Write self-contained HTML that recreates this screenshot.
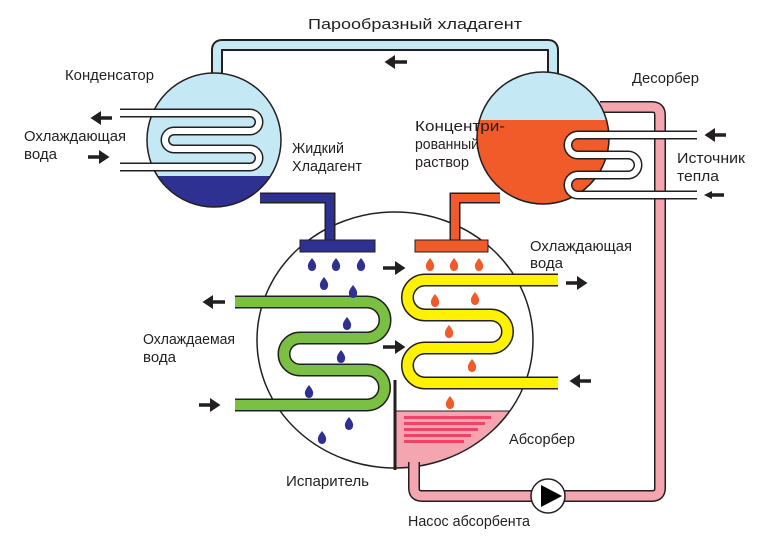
<!DOCTYPE html>
<html><head><meta charset="utf-8"><style>
html,body{margin:0;padding:0;background:#fff;}
svg{display:block;}
text{font-family:"Liberation Sans",sans-serif;font-size:15px;fill:#231f20;}
</style></head><body>
<svg width="760" height="540" viewBox="0 0 760 540" xmlns="http://www.w3.org/2000/svg">
<defs>
<marker id="ah" markerWidth="4" markerHeight="4" refX="2" refY="2" orient="auto" markerUnits="strokeWidth"><path d="M0,0 L3,2 L0,4 z" fill="#231f20"/></marker>
</defs>
<!-- big vessel -->
<clipPath id="bc"><ellipse cx="395" cy="340" rx="138" ry="128"/></clipPath>
<ellipse cx="395" cy="340" rx="138" ry="128" fill="#fff"/>
<rect x="395" y="411" width="150" height="70" fill="#f4a6b0" clip-path="url(#bc)"/>
<line x1="395" y1="411" x2="530" y2="411" stroke="#231f20" stroke-width="1" clip-path="url(#bc)"/>
<g fill="#ee4266">
<rect x="404" y="416" width="87" height="3"/><rect x="404" y="422" width="81" height="3"/><rect x="404" y="428" width="74" height="3"/><rect x="404" y="434" width="67" height="3"/><rect x="404" y="440" width="60" height="3"/>
</g>
<ellipse cx="395" cy="340" rx="138" ry="128" fill="none" stroke="#231f20" stroke-width="1.5"/>
<!-- top vapor pipe -->
<path d="M217,80 V50 Q217,45 222,45 H548 Q553,45 553,50 V80" fill="none" stroke="#231f20" stroke-width="12"/>
<path d="M217,80 V50 Q217,45 222,45 H548 Q553,45 553,50 V80" fill="none" stroke="#c5e8f5" stroke-width="8"/>
<!-- pink return pipe -->
<path d="M600,107 H652 Q660,107 660,115 V488 Q660,496 652,496 H422 Q414,496 414,488 V462" fill="none" stroke="#231f20" stroke-width="12"/>
<path d="M600,107 H652 Q660,107 660,115 V488 Q660,496 652,496 H422 Q414,496 414,488 V460" fill="none" stroke="#f4a6b0" stroke-width="9"/>
<rect x="395" y="411" width="0" height="0"/>
<!-- blue pipe -->
<path d="M260,198 H330 V245" fill="none" stroke="#231f20" stroke-width="11"/>
<path d="M260,198 H330 V245" fill="none" stroke="#2e3192" stroke-width="8"/>
<rect x="300" y="240" width="75" height="12" fill="#2e3192" stroke="#231f20" stroke-width="1"/>
<!-- orange pipe -->
<path d="M500,198 H455 V245" fill="none" stroke="#231f20" stroke-width="11"/>
<path d="M500,198 H455 V245" fill="none" stroke="#f15a29" stroke-width="8"/>
<rect x="415" y="240" width="73" height="12" fill="#f15a29" stroke="#231f20" stroke-width="1"/>
<line x1="395" y1="380" x2="395" y2="470" stroke="#231f20" stroke-width="3"/>
<!-- condenser -->
<clipPath id="cc"><circle cx="214" cy="140" r="67"/></clipPath>
<circle cx="214" cy="140" r="67" fill="#c5e8f5"/>
<rect x="140" y="176" width="150" height="40" fill="#2e3192" clip-path="url(#cc)"/>
<circle cx="214" cy="140" r="67" fill="none" stroke="#231f20" stroke-width="1.5"/>
<path d="M120,113 H250 A9,9 0 0 1 250,131 H174 A9,9 0 0 0 174,149 H250 A9,9 0 0 1 250,167 H120" fill="none" stroke="#231f20" stroke-width="9"/>
<path d="M120,113 H250 A9,9 0 0 1 250,131 H174 A9,9 0 0 0 174,149 H250 A9,9 0 0 1 250,167 H120" fill="none" stroke="#fff" stroke-width="6"/>
<!-- desorber -->
<clipPath id="dc"><circle cx="543" cy="138" r="66"/></clipPath>
<circle cx="543" cy="138" r="66" fill="#c5e8f5"/>
<rect x="470" y="120" width="150" height="100" fill="#f15a29" clip-path="url(#dc)"/>
<circle cx="543" cy="138" r="66" fill="none" stroke="#231f20" stroke-width="1.5"/>
<path d="M697,135 H578 A10,10 0 0 0 578,155 H628 A10,10 0 0 1 628,175 H578 A10,10 0 0 0 578,195 H697" fill="none" stroke="#231f20" stroke-width="9"/>
<path d="M697,135 H578 A10,10 0 0 0 578,155 H628 A10,10 0 0 1 628,175 H578 A10,10 0 0 0 578,195 H697" fill="none" stroke="#fff" stroke-width="6"/>
<!-- green coil -->
<path d="M235,302 H367 A18,18 0 0 1 367,338 H300 A16,16 0 0 0 300,370 H367 A17.5,17.5 0 0 1 367,405 H235" fill="none" stroke="#231f20" stroke-width="13"/>
<path d="M235,302 H367 A18,18 0 0 1 367,338 H300 A16,16 0 0 0 300,370 H367 A17.5,17.5 0 0 1 367,405 H235" fill="none" stroke="#7ac143" stroke-width="10"/>
<!-- yellow coil -->
<path d="M558,280 H425 A17.5,17.5 0 0 0 425,315 H491 A16.5,16.5 0 0 1 491,348 H425 A17.5,17.5 0 0 0 425,383 H558" fill="none" stroke="#231f20" stroke-width="13"/>
<path d="M558,280 H425 A17.5,17.5 0 0 0 425,315 H491 A16.5,16.5 0 0 1 491,348 H425 A17.5,17.5 0 0 0 425,383 H558" fill="none" stroke="#fff200" stroke-width="10"/>
<!-- drops -->
<g fill="#2e3192">
<path d="M0,-7 Q5,-1 4,2 A4,4 0 0 1 -4,2 Q-5,-1 0,-7z" transform="translate(312,265)"/>
<path d="M0,-7 Q5,-1 4,2 A4,4 0 0 1 -4,2 Q-5,-1 0,-7z" transform="translate(336,265)"/>
<path d="M0,-7 Q5,-1 4,2 A4,4 0 0 1 -4,2 Q-5,-1 0,-7z" transform="translate(361,265)"/>
<path d="M0,-7 Q5,-1 4,2 A4,4 0 0 1 -4,2 Q-5,-1 0,-7z" transform="translate(324,284)"/>
<path d="M0,-7 Q5,-1 4,2 A4,4 0 0 1 -4,2 Q-5,-1 0,-7z" transform="translate(353,292)"/>
<path d="M0,-7 Q5,-1 4,2 A4,4 0 0 1 -4,2 Q-5,-1 0,-7z" transform="translate(347,324)"/>
<path d="M0,-7 Q5,-1 4,2 A4,4 0 0 1 -4,2 Q-5,-1 0,-7z" transform="translate(341,357)"/>
<path d="M0,-7 Q5,-1 4,2 A4,4 0 0 1 -4,2 Q-5,-1 0,-7z" transform="translate(309,392)"/>
<path d="M0,-7 Q5,-1 4,2 A4,4 0 0 1 -4,2 Q-5,-1 0,-7z" transform="translate(349,424)"/>
<path d="M0,-7 Q5,-1 4,2 A4,4 0 0 1 -4,2 Q-5,-1 0,-7z" transform="translate(322,438)"/>
</g>
<g fill="#f15a29">
<path d="M0,-7 Q5,-1 4,2 A4,4 0 0 1 -4,2 Q-5,-1 0,-7z" transform="translate(430,265)"/>
<path d="M0,-7 Q5,-1 4,2 A4,4 0 0 1 -4,2 Q-5,-1 0,-7z" transform="translate(454,265)"/>
<path d="M0,-7 Q5,-1 4,2 A4,4 0 0 1 -4,2 Q-5,-1 0,-7z" transform="translate(479,265)"/>
<path d="M0,-7 Q5,-1 4,2 A4,4 0 0 1 -4,2 Q-5,-1 0,-7z" transform="translate(435,301)"/>
<path d="M0,-7 Q5,-1 4,2 A4,4 0 0 1 -4,2 Q-5,-1 0,-7z" transform="translate(475,299)"/>
<path d="M0,-7 Q5,-1 4,2 A4,4 0 0 1 -4,2 Q-5,-1 0,-7z" transform="translate(449,332)"/>
<path d="M0,-7 Q5,-1 4,2 A4,4 0 0 1 -4,2 Q-5,-1 0,-7z" transform="translate(472,366)"/>
<path d="M0,-7 Q5,-1 4,2 A4,4 0 0 1 -4,2 Q-5,-1 0,-7z" transform="translate(450,403)"/>
</g>
<!-- pump -->
<circle cx="548" cy="496" r="17" fill="#fff" stroke="#231f20" stroke-width="1.5"/>
<path d="M541,485 L562,496 L541,507 z" fill="#000"/>
<!-- arrows -->
<g stroke="#231f20" stroke-width="3.5" marker-end="url(#ah)">
<line x1="407" y1="62" x2="388" y2="62"/>
<line x1="112" y1="118" x2="94" y2="118"/>
<line x1="88" y1="157" x2="106" y2="157"/>
<line x1="726" y1="135" x2="708" y2="135"/>
<line x1="225" y1="302" x2="206" y2="302"/>
<line x1="199" y1="405" x2="217" y2="405"/>
<line x1="383" y1="268" x2="402" y2="268"/>
<line x1="383" y1="347" x2="402" y2="347"/>
<line x1="566" y1="283" x2="584" y2="283"/>
<line x1="591" y1="381" x2="573" y2="381"/>
</g>
<line x1="724" y1="195" x2="710" y2="195" stroke="#231f20" stroke-width="3.5"/>
<path d="M704,195 L712,191 L712,199z" fill="#231f20"/>
<!-- labels -->
<text x="308" y="29" textLength="214" lengthAdjust="spacingAndGlyphs">Парообразный хладагент</text>
<text x="65" y="80" textLength="89" lengthAdjust="spacingAndGlyphs">Конденсатор</text>
<text x="24" y="141" textLength="102" lengthAdjust="spacingAndGlyphs">Охлаждающая</text>
<text x="24" y="159" textLength="33" lengthAdjust="spacingAndGlyphs">вода</text>
<text x="292" y="153" textLength="52" lengthAdjust="spacingAndGlyphs">Жидкий</text>
<text x="292" y="171" textLength="70" lengthAdjust="spacingAndGlyphs">Хладагент</text>
<text x="415" y="131" textLength="90" lengthAdjust="spacingAndGlyphs">Концентри-</text>
<text x="415" y="149" textLength="64" lengthAdjust="spacingAndGlyphs">рованный</text>
<text x="415" y="167" textLength="54" lengthAdjust="spacingAndGlyphs">раствор</text>
<text x="632" y="83" textLength="67" lengthAdjust="spacingAndGlyphs">Десорбер</text>
<text x="677" y="163" textLength="68" lengthAdjust="spacingAndGlyphs">Источник</text>
<text x="677" y="181" textLength="42" lengthAdjust="spacingAndGlyphs">тепла</text>
<text x="530" y="251" textLength="102" lengthAdjust="spacingAndGlyphs">Охлаждающая</text>
<text x="530" y="268" textLength="33" lengthAdjust="spacingAndGlyphs">вода</text>
<text x="143" y="344" textLength="92" lengthAdjust="spacingAndGlyphs">Охлаждаемая</text>
<text x="143" y="362" textLength="33" lengthAdjust="spacingAndGlyphs">вода</text>
<text x="509" y="444" textLength="66" lengthAdjust="spacingAndGlyphs">Абсорбер</text>
<text x="286" y="486" textLength="83" lengthAdjust="spacingAndGlyphs">Испаритель</text>
<text x="408" y="526" textLength="122" lengthAdjust="spacingAndGlyphs">Насос абсорбента</text>
</svg>
</body></html>
